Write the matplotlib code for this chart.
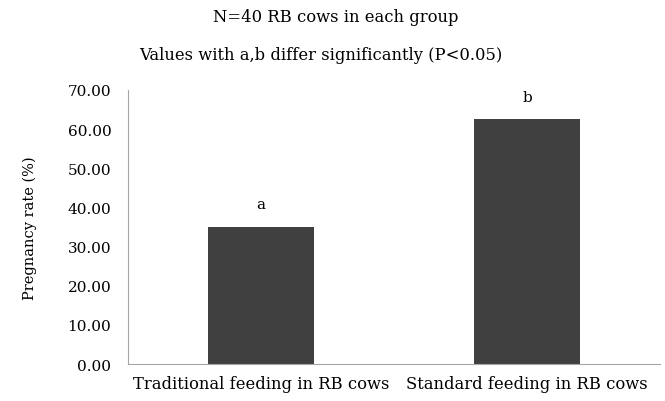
import matplotlib
matplotlib.use('Agg')
import matplotlib.pyplot as plt

# データ
groups = ['Traditional feeding in RB cows', 'Standard feeding in RB cows']
pregnancy_rate = [35.0, 62.5]
sig_letters = ['a', 'b']
y_ticks = [0, 10, 20, 30, 40, 50, 60, 70]

plt.rcParams['font.family'] = ['DejaVu Serif']

fig = plt.figure(figsize=(6.65, 4.02), dpi=100)
ax = fig.add_axes([0.1925, 0.092, 0.80, 0.682])

x = list(range(len(groups)))
ax.bar(x, pregnancy_rate, width=0.4, color='#404040')

# 有意差の文字
for xi, val, letter in zip(x, pregnancy_rate, sig_letters):
    ax.text(xi, val + 4.0, letter, ha='center', va='bottom', fontsize=11)

ax.set_xlim(-0.5, 1.5)
ax.set_ylim(0, 70)
ax.set_yticks(y_ticks)
ax.set_yticklabels([f'{v:.2f}' for v in y_ticks], fontsize=11)
ax.set_xticks(x)
ax.set_xticklabels(groups, fontsize=11.8)
ax.tick_params(axis='y', length=0, pad=12)
ax.tick_params(axis='x', length=0, pad=8)
ax.set_ylabel('Pregnancy rate (%)', fontsize=10.5, labelpad=22)

for side in ['top', 'right']:
    ax.spines[side].set_visible(False)
for side in ['left', 'bottom']:
    ax.spines[side].set_color('#a6a6a6')
    ax.spines[side].set_linewidth(0.8)

fig.text(0.505, 1 - 17 / 402, 'N=40 RB cows in each group', ha='center', va='center', fontsize=11.8)
fig.text(0.482, 1 - 55 / 402, 'Values with a,b differ significantly (P<0.05)', ha='center', va='center', fontsize=11.8)

fig.savefig('out.png', dpi=100)
